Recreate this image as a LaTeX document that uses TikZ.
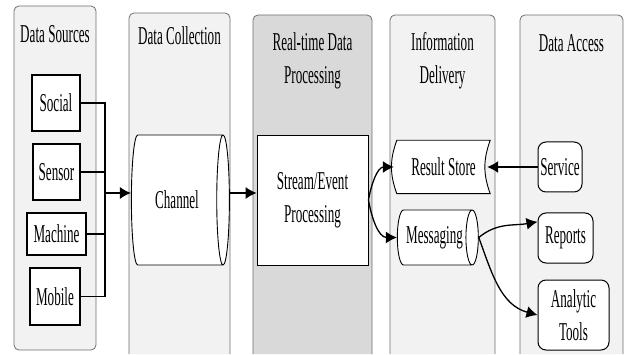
\documentclass[tikz,border=0pt]{standalone}
\usepackage{fontspec}
\setmainfont{Liberation Serif}[FakeStretch=0.51]
\usetikzlibrary{arrows.meta,shapes.geometric}
\definecolor{lanefill}{HTML}{F2F2F2}
\definecolor{lanehot}{HTML}{D9D9D9}
\definecolor{laneline}{HTML}{6F6F6F}
\pgfdeclarelayer{background}
\pgfsetlayers{background,main}

\begin{document}
\begin{tikzpicture}[x=1pt,y=1pt,>={Latex[length=11pt,width=12pt]},
  every node/.style={font=\fontsize{25.7}{33}\selectfont, align=center},
  lane/.style={draw=laneline,fill=lanefill,line width=.8pt,rounded corners=5pt},
  title/.style={anchor=north,inner sep=0pt},
  srcbox/.style={draw,fill=white,line width=1.3pt,inner sep=0pt},
  accbox/.style={draw,fill=white,line width=1pt,rounded corners=8pt,inner sep=0pt},
  pipe/.style={cylinder,draw,fill=white,line width=.9pt,inner sep=0pt},
  flow/.style={->,line width=1.3pt}]
\useasboundingbox (0,0) rectangle (627,354);
% lanes
\begin{pgfonlayer}{background}
\draw[lane] (14,4) rectangle (96,348);
\draw[lane] (129,0) -- (129,341) -- (230,341) -- (230,0);
\draw[lane,fill=lanehot] (253,0) -- (253,339) -- (372,339) -- (372,0);
\draw[lane] (390,0) -- (390,339) -- (495,339) -- (495,0);
\draw[lane] (520,0) -- (520,339) -- (623,339) -- (623,0);
\end{pgfonlayer}
\node[title] (tsrc) at (55,329) {Data Sources};
\node[title] (tcol) at (179.5,328) {Data Collection};
\node[title] (tproc) at (312.5,322) {Real-time Data\\Processing};
\node[title] (tdel) at (442.5,322) {Information\\Delivery};
\node[title] (tacc) at (571.5,320) {Data Access};
% sources
\node[srcbox,minimum width=48pt,minimum height=56pt] (social) at (56,251) {Social};
\node[srcbox,minimum width=47pt,minimum height=56pt] (sensor) at (56.5,182) {Sensor};
\node[srcbox,minimum width=59pt,minimum height=42pt] (machine) at (56.5,120) {Machine};
\node[srcbox,minimum width=50pt,minimum height=57pt] (mobile) at (55,57.5) {Mobile};
\coordinate (bus) at (105,161);
\draw[line width=1.3pt] (social.east) -| (bus);
\draw[line width=1.3pt] (sensor.east) -| (bus);
\draw[line width=1.3pt] (machine.east) -| (bus);
\draw[line width=1.3pt] (mobile.east) -| (bus);
% collection and processing
\node[pipe,shape aspect=0.7,minimum height=98pt,minimum width=130pt] (channel) at (177,154) {Channel};
\node[draw,fill=white,line width=.9pt,minimum width=111pt,minimum height=130pt] (stream) at (312.5,154) {Stream/Event\\Processing};
\draw[flow] (bus) -- (bus -| channel.west);
\draw[flow] (channel.east |- bus) -- (stream.west |- bus);
% delivery
\node[minimum width=93pt,minimum height=53pt,inner sep=0pt] (store) at (443.5,187) {Result Store};
\begin{pgfonlayer}{background}
\draw[fill=white,line width=.9pt] (store.north west) to[bend right=20] (store.south west) -- (store.south east) to[bend left=20] (store.north east) -- cycle;
\end{pgfonlayer}
\node[pipe,shape aspect=0.55,minimum height=81pt,minimum width=55pt] (msg) at (434.5,116.5) {Messaging};
% access
\node[accbox,minimum width=44pt,minimum height=50pt] (service) at (560,187) {Service};
\node[accbox,minimum width=55pt,minimum height=50pt] (reports) at (565.5,116) {Reports};
\node[accbox,minimum width=71pt,minimum height=70pt] (tools) at (573.5,39) {Analytic\\Tools};
\draw[flow] (stream.east) to[out=80,in=180] ([xshift=-3pt]store.west);
\draw[flow] (stream.east) to[out=-80,in=180] (msg.west);
\draw[flow] (service.west) -- ([xshift=-3pt]store.east);
\draw[flow] (msg.east) to[out=40,in=190] (reports.150);
\draw[flow] (msg.east) to[out=-70,in=165] (tools.west);
\end{tikzpicture}
\end{document}
